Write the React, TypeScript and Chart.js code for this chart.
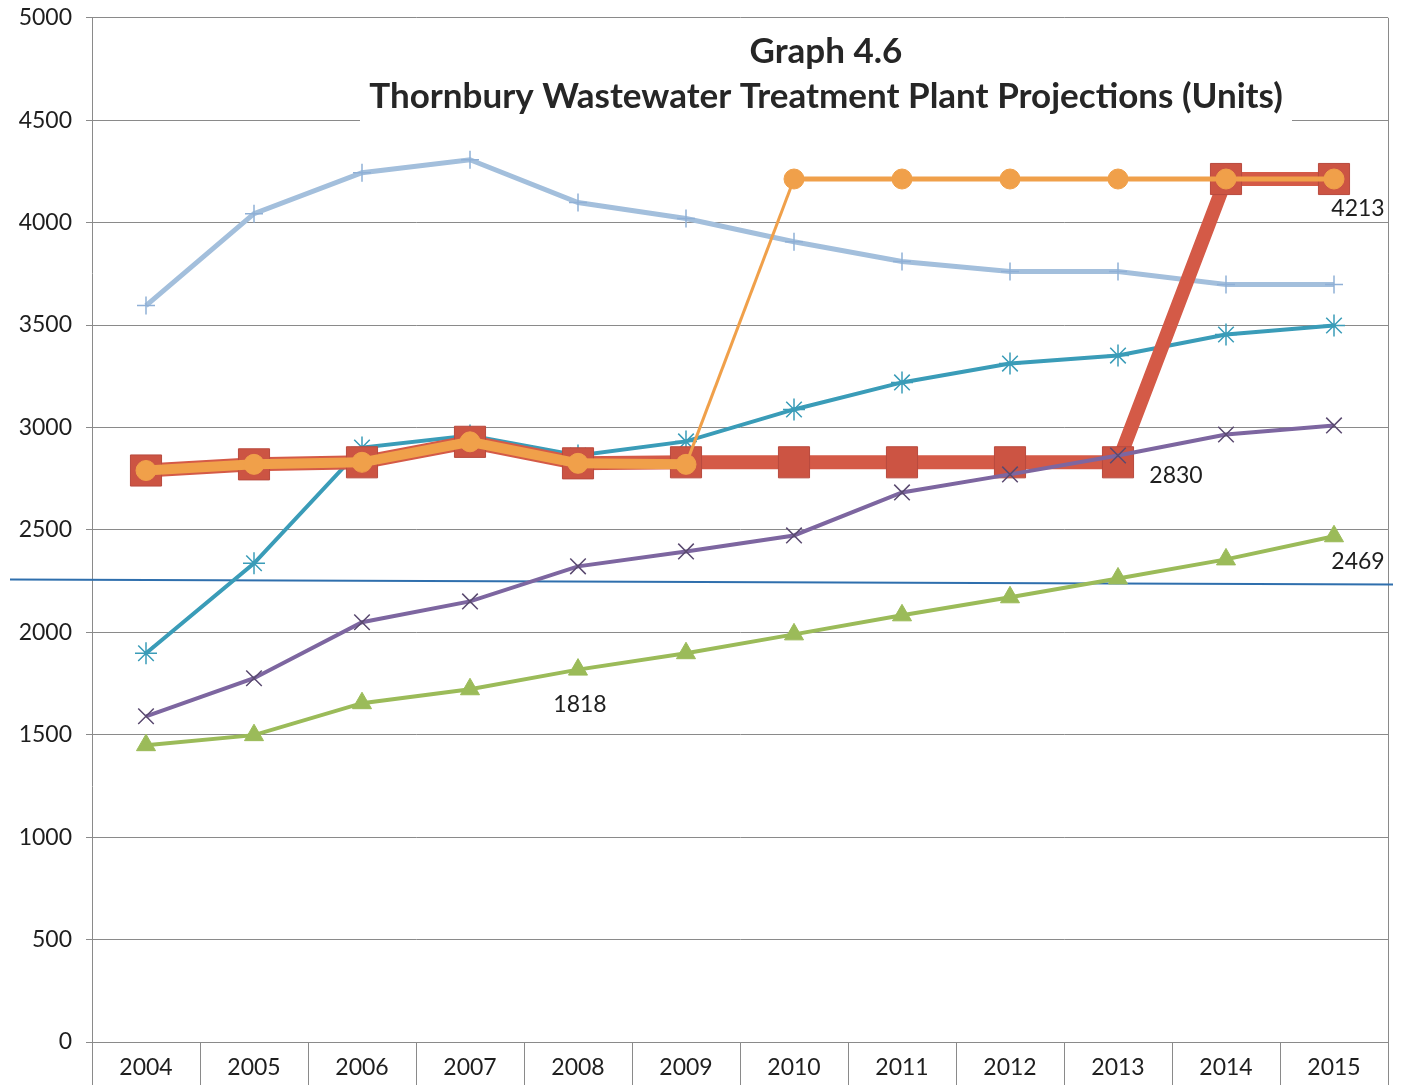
import React, { useEffect, useRef } from "react";
import { Chart, registerables } from "chart.js";

Chart.register(...registerables);

const YEARS = ["2004", "2005", "2006", "2007", "2008", "2009", "2010", "2011", "2012", "2013", "2014", "2015"];
const SERIES_LIGHTBLUE = [3595, 4044, 4244, 4307, 4098, 4020, 3907, 3810, 3761, 3761, 3698, 3698];
const SERIES_ORANGE = [2790, 2820, 2830, 2930, 2825, 2820, 4213, 4213, 4213, 4213, 4213, 4213];
const SERIES_RED = [2790, 2820, 2830, 2930, 2825, 2830, 2830, 2830, 2830, 2830, 4213, 4213];
const SERIES_TEAL = [1898, 2337, 2902, 2961, 2863, 2932, 3088, 3220, 3312, 3351, 3454, 3498];
const SERIES_PURPLE = [1590, 1776, 2049, 2151, 2322, 2395, 2473, 2683, 2771, 2863, 2966, 3010];
const SERIES_GREEN = [1449, 1498, 1654, 1722, 1818, 1898, 1990, 2083, 2171, 2263, 2356, 2469];
const REFERENCE_LINE = [2258, 2234]; // hand-drawn blue line value at left and right ends
const Y_MIN = 0;
const Y_MAX = 5000;
const Y_STEP = 500;
const TITLE_LINES = ["Graph 4.6", "Thornbury Wastewater Treatment Plant Projections (Units)"];
// data labels: dataset key + point index; text is the data value
const DATA_LABELS = [
  { series: "red", index: 11 },
  { series: "red", index: 9 },
  { series: "green", index: 11 },
  { series: "green", index: 4 },
];

const LABEL_OFFSETS = [
  { dx: 24, dy: 30 },
  { dx: 58, dy: 13 },
  { dx: 24, dy: 25 },
  { dx: 2, dy: 35 },
];

const GRID = "#8a8a8a";
const TEXT = "#1e1e1e";
const SHIFT_Y = 10; // canvas is drawn 10px higher than the page top

export default function App() {
  const ref = useRef<HTMLCanvasElement | null>(null);

  useEffect(() => {
    if (!ref.current) return;

    const seriesMap: Record<string, number> = { green: 0, purple: 1, orange: 2, red: 3, teal: 4, lightblue: 5 };

    const overlay = {
      id: "overlay",
      beforeDatasetsDraw(chart: any) {
        const { ctx, chartArea, scales } = chart;
        const y = scales.y;
        ctx.save();
        // right border
        ctx.strokeStyle = GRID;
        ctx.lineWidth = 1;
        ctx.beginPath();
        ctx.moveTo(chartArea.right + 0.5, chartArea.top);
        ctx.lineTo(chartArea.right + 0.5, chartArea.bottom);
        ctx.stroke();
        // title box
        ctx.fillStyle = "#ffffff";
        ctx.fillRect(360, 24 + SHIFT_Y, 932, 104);
        ctx.fillStyle = "#262626";
        ctx.textAlign = "center";
        ctx.textBaseline = "alphabetic";
        let size = 40;
        ctx.font = `bold ${size}px Lato`;
        while (ctx.measureText(TITLE_LINES[1]).width > 916 && size > 10) {
          size -= 0.5;
          ctx.font = `bold ${size}px Lato`;
        }
        ctx.fillText(TITLE_LINES[0], 826, 63 + SHIFT_Y);
        ctx.fillText(TITLE_LINES[1], 826, 108 + SHIFT_Y);
        // reference line
        ctx.strokeStyle = "#2f6fad";
        ctx.lineWidth = 2;
        ctx.beginPath();
        ctx.moveTo(10, y.getPixelForValue(REFERENCE_LINE[0]));
        ctx.lineTo(chartArea.right + 5, y.getPixelForValue(REFERENCE_LINE[1]));
        ctx.stroke();
        ctx.restore();
      },
      afterDatasetsDraw(chart: any) {
        const { ctx } = chart;
        ctx.save();
        ctx.fillStyle = TEXT;
        ctx.font = "23px Lato";
        ctx.textAlign = "center";
        ctx.textBaseline = "middle";
        DATA_LABELS.forEach((l, i) => {
          const di = seriesMap[l.series];
          const pt = chart.getDatasetMeta(di).data[l.index];
          const v = chart.data.datasets[di].data[l.index];
          ctx.fillText(String(v), pt.x + LABEL_OFFSETS[i].dx, pt.y + LABEL_OFFSETS[i].dy);
        });
        ctx.restore();
      },
    };

    const chart = new Chart(ref.current, {
      type: "line",
      data: {
        labels: YEARS,
        datasets: [
          {
            label: "green",
            data: SERIES_GREEN,
            borderColor: "#9bbb59",
            backgroundColor: "#9bbb59",
            borderWidth: 4,
            pointStyle: "triangle",
            pointRadius: 11,
            pointBorderWidth: 1,
          },
          {
            label: "purple",
            data: SERIES_PURPLE,
            borderColor: "#7d66a0",
            backgroundColor: "#7d66a0",
            borderWidth: 4,
            pointStyle: "crossRot",
            pointRadius: 11,
            pointBorderColor: "#5a4a70",
            pointBorderWidth: 1.5,
          },
          {
            label: "orange",
            data: SERIES_ORANGE,
            borderColor: "#f0a04a",
            backgroundColor: "#f0a04a",
            borderWidth: 5,
            segment: {
              borderWidth: (c: any) => (c.p0DataIndex < 5 ? 10 : c.p0DataIndex === 5 ? 3 : 5),
            },
            pointStyle: "circle",
            pointRadius: 10,
            pointBorderWidth: 1,
          },
          {
            label: "red",
            data: SERIES_RED,
            borderColor: "#d45a47",
            backgroundColor: "#cc5443",
            borderWidth: 14,
            pointStyle: "rect",
            pointRadius: 22,
            pointBorderColor: "#b84a3e",
            pointBorderWidth: 1,
          },
          {
            label: "teal",
            data: SERIES_TEAL,
            borderColor: "#3a9cb8",
            backgroundColor: "#3a9cb8",
            borderWidth: 4,
            pointStyle: "star",
            pointRadius: 11,
            pointBorderWidth: 1.5,
          },
          {
            label: "lightblue",
            data: SERIES_LIGHTBLUE,
            borderColor: "#a3bfdc",
            backgroundColor: "#a3bfdc",
            borderWidth: 5,
            pointStyle: "cross",
            pointRadius: 9,
            pointBorderColor: "#8fb0d6",
            pointBorderWidth: 1.5,
          },
        ],
      },
      options: {
        animation: false,
        responsive: false,
        events: [],
        layout: { padding: { left: 0, top: 7, right: 7, bottom: 0 } },
        plugins: {
          legend: { display: false },
          title: { display: false },
          tooltip: { enabled: false },
        },
        elements: { line: { tension: 0 } },
        scales: {
          x: {
            type: "category",
            offset: true,
            grid: {
              offset: true,
              drawOnChartArea: false,
              drawTicks: true,
              tickLength: 43,
              color: GRID,
              lineWidth: 1,
            },
            border: { display: true, color: GRID, width: 1 },
            ticks: {
              color: TEXT,
              font: { family: "Lato", size: 23 },
              padding: -31,
              maxRotation: 0,
              autoSkip: false,
            },
            afterFit(scale: any) {
              scale.height = 43;
            },
          },
          y: {
            min: Y_MIN,
            max: Y_MAX,
            grid: { color: GRID, lineWidth: 1, drawTicks: true, tickLength: 6 },
            border: { display: true, color: GRID, width: 1 },
            ticks: {
              stepSize: Y_STEP,
              color: TEXT,
              font: { family: "Lato", size: 23 },
              padding: 14,
              callback: (v: any) => String(v),
            },
            afterFit(scale: any) {
              scale.width = 92;
            },
          },
        },
      },
      plugins: [overlay],
    } as any);

    return () => chart.destroy();
  }, []);

  return (
    <div
      style={{
        position: "fixed",
        left: 0,
        top: 0,
        width: 1403,
        height: 1085,
        background: "#fff",
        overflow: "hidden",
      }}
    >
      <canvas
        ref={ref}
        width={1411}
        height={1095}
        style={{ display: "block", position: "absolute", left: 0, top: -SHIFT_Y }}
      />
    </div>
  );
}
